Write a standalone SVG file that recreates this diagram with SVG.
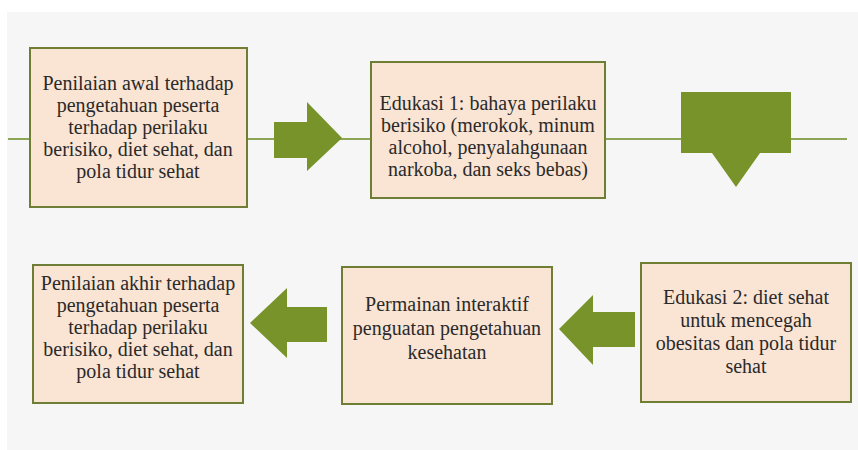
<svg xmlns="http://www.w3.org/2000/svg" width="858" height="450" viewBox="0 0 858 450">
<style>
.box{fill:#FAE4D4;stroke:#6E7E35;stroke-width:2}
.arr{fill:#77932A}
.ln{stroke:#8CA655;stroke-width:2;fill:none}
.t{font-family:'Liberation Serif','Times New Roman',serif;font-size:20px;fill:#2a2a2a;text-anchor:middle}
</style>
<rect width="858" height="450" fill="#ffffff"/>
<rect x="7" y="12" width="851" height="438" fill="#F6F6F6"/>
<g id="connectors">
<line class="ln" x1="8" y1="139" x2="847" y2="139"/>
</g>
<g id="arrow1"><polygon class="arr" points="274,122 307,122 307,102 342,138 307,171 307,158 274,158"/></g>
<g id="arrow2"><polygon class="arr" points="681,92 791,92 791,153 760,153 736,187 712,153 681,153"/></g>
<g id="arrow3"><polygon class="arr" points="327,307 287,307 287,288 250,323 287,358 287,342 327,342"/></g>
<g id="arrow4"><polygon class="arr" points="635,312 593,312 593,295 559,329 593,365 593,347 635,347"/></g>
<g id="node1" class="t">
<rect class="box" x="30" y="48" width="217" height="159"/>
<text x="138" y="90">Penilaian awal terhadap</text>
<text x="138" y="112">pengetahuan peserta</text>
<text x="138" y="134">terhadap perilaku</text>
<text x="138" y="156">berisiko, diet sehat, dan</text>
<text x="138" y="178">pola tidur sehat</text>
</g>
<g id="node2" class="t">
<rect class="box" x="371" y="62" width="234" height="136"/>
<text x="488" y="110">Edukasi 1: bahaya perilaku</text>
<text x="488" y="132">berisiko (merokok, minum</text>
<text x="488" y="154">alcohol, penyalahgunaan</text>
<text x="488" y="176">narkoba, dan seks bebas)</text>
</g>
<g id="node3" class="t">
<rect class="box" x="641" y="263" width="210" height="139"/>
<text x="746" y="304">Edukasi 2: diet sehat</text>
<text x="746" y="327">untuk mencegah</text>
<text x="746" y="350">obesitas dan pola tidur</text>
<text x="746" y="373">sehat</text>
</g>
<g id="node4" class="t">
<rect class="box" x="342" y="267" width="210" height="137"/>
<text x="447" y="311">Permainan interaktif</text>
<text x="447" y="335">penguatan pengetahuan</text>
<text x="447" y="359">kesehatan</text>
</g>
<g id="node5" class="t">
<rect class="box" x="33" y="265" width="210" height="138"/>
<text x="138" y="290">Penilaian akhir terhadap</text>
<text x="138" y="312">pengetahuan peserta</text>
<text x="138" y="334">terhadap perilaku</text>
<text x="138" y="356">berisiko, diet sehat, dan</text>
<text x="138" y="378">pola tidur sehat</text>
</g>
</svg>
